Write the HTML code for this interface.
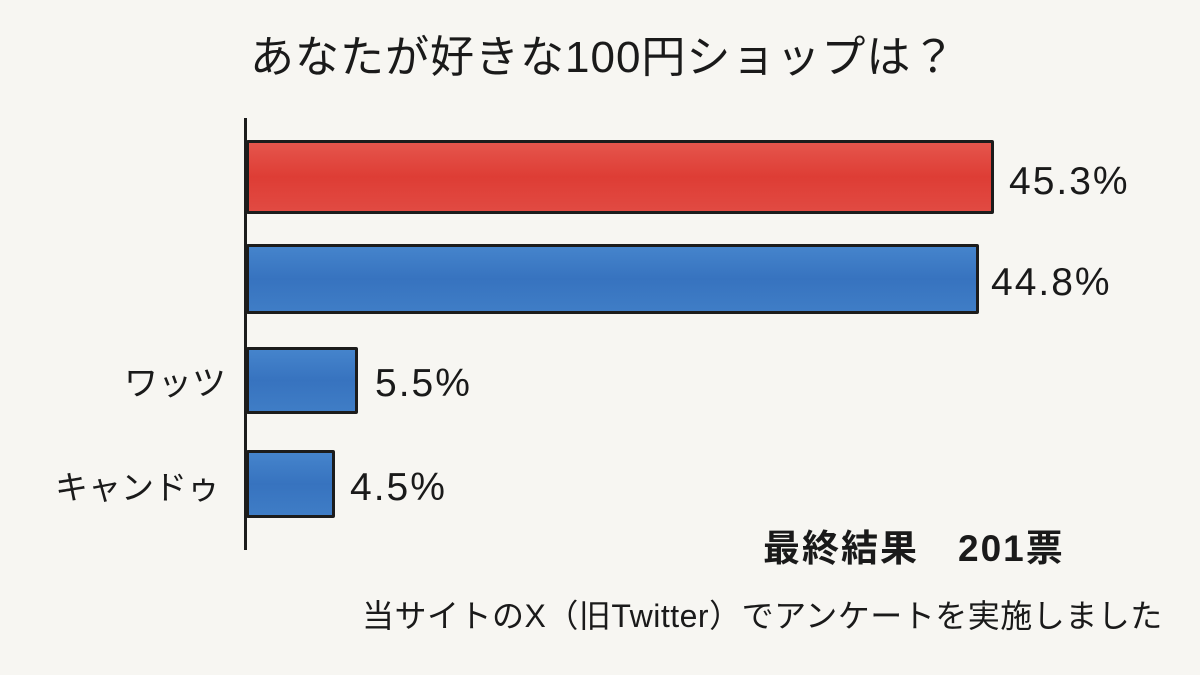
<!DOCTYPE html>
<html><head><meta charset="utf-8"><style>
html,body{margin:0;padding:0}
body{width:1200px;height:675px;background:#f7f6f2;position:relative;overflow:hidden;font-family:"Liberation Sans","Noto Sans CJK JP",sans-serif;color:#1a1a1a}
.t{position:absolute;white-space:nowrap;line-height:1}
.bar{position:absolute;border:3px solid #1c1c1c;box-sizing:border-box;border-radius:2px}
.r{background:linear-gradient(180deg,#e5554c,#de3d35 50%,#e14a42)}
.b{background:linear-gradient(180deg,#4584cc,#3773bf 50%,#3f7dc6)}
.n{font-size:39px;letter-spacing:2px}
</style></head><body>
<div class="t" style="left:250px;top:36px;font-size:44px;letter-spacing:1px">あなたが好きな100円ショップは？</div>
<div style="position:absolute;left:244px;top:118px;width:3px;height:432px;background:#1c1c1c"></div>
<div class="bar r" style="left:246px;top:140px;width:748px;height:74px"></div>
<div class="bar b" style="left:246px;top:244px;width:733px;height:70px"></div>
<div class="bar b" style="left:246px;top:347px;width:112px;height:67px"></div>
<div class="bar b" style="left:246px;top:450px;width:89px;height:68px"></div>
<div class="t n" style="left:1009px;top:162px">45.3%</div>
<div class="t n" style="left:991px;top:263px">44.8%</div>
<div class="t n" style="left:375px;top:364px">5.5%</div>
<div class="t n" style="left:350px;top:468px">4.5%</div>
<div class="t" style="left:124px;top:367px;font-size:34px">ワッツ</div>
<div class="t" style="left:55px;top:471px;font-size:33px">キャンドゥ</div>
<div class="t" style="left:763px;top:530px;font-size:37px;font-weight:bold;letter-spacing:2px">最終結果　201票</div>
<div class="t" style="left:362px;top:600px;font-size:32px;letter-spacing:0.5px">当サイトのX（旧Twitter）でアンケートを実施しました</div>
</body></html>
